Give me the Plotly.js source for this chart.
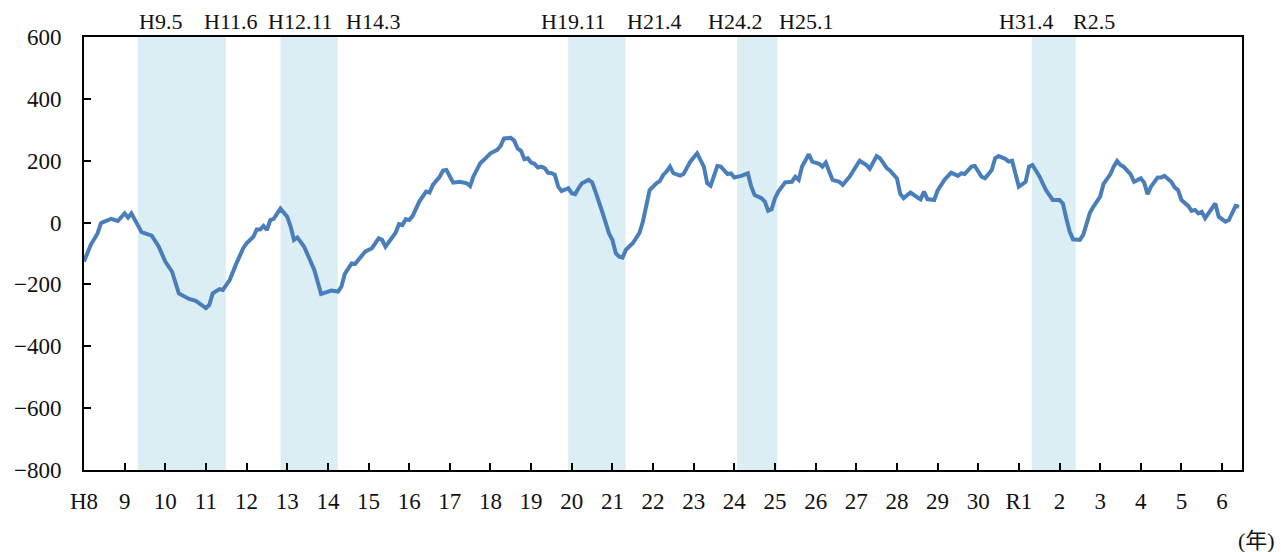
<!DOCTYPE html>
<html>
<head>
<meta charset="utf-8">
<script src="https://cdn.plot.ly/plotly-3.0.1.min.js"></script>
<style>
html,body{margin:0;padding:0;background:#fff;}
#chart{width:1281px;height:552px;}
</style>
</head>
<body>
<div id="chart"></div>
<script>
// Monthly readings (YYYY-MM) and values
const months = [
"1996-01","1996-03","1996-05","1996-06","1996-07","1996-09","1996-11",
"1997-01","1997-02","1997-03","1997-06","1997-09","1997-11",
"1998-01","1998-03","1998-05","1998-08","1998-10",
"1999-01","1999-02","1999-03","1999-05","1999-06","1999-08","1999-10","1999-12",
"2000-01","2000-03","2000-04","2000-05","2000-06","2000-07","2000-08","2000-09","2000-11",
"2001-01","2001-02","2001-03","2001-04","2001-06","2001-09","2001-11",
"2002-02","2002-04","2002-05","2002-06","2002-08","2002-09","2002-12",
"2003-02","2003-04","2003-05","2003-06","2003-08","2003-09","2003-10","2003-11","2003-12",
"2004-01","2004-02","2004-04","2004-06","2004-07","2004-08","2004-10","2004-11","2004-12",
"2005-02","2005-04","2005-06","2005-07","2005-08","2005-10","2005-11",
"2006-01","2006-03","2006-04","2006-05","2006-07","2006-08","2006-09","2006-10","2006-11","2006-12",
"2007-01","2007-02","2007-03","2007-04","2007-05","2007-06","2007-07","2007-08","2007-09","2007-10","2007-11","2007-12",
"2008-01","2008-02","2008-03","2008-04","2008-06","2008-07","2008-08","2008-09","2008-10","2008-12",
"2009-01","2009-02","2009-03","2009-04","2009-05","2009-07","2009-09","2009-10","2009-11","2009-12",
"2010-02","2010-03","2010-04","2010-05","2010-06","2010-07","2010-09","2010-10","2010-12",
"2011-02","2011-04","2011-05","2011-06","2011-08","2011-09","2011-11","2011-12",
"2012-01","2012-03","2012-05","2012-06","2012-07","2012-09","2012-10","2012-11","2012-12",
"2013-01","2013-02","2013-04","2013-06","2013-07","2013-08","2013-09","2013-11","2013-12",
"2014-02","2014-03","2014-04","2014-05","2014-06","2014-08","2014-09","2014-11",
"2015-01","2015-02","2015-04","2015-05","2015-07","2015-08","2015-10","2015-11",
"2016-01","2016-02","2016-03","2016-05","2016-07","2016-08","2016-09","2016-10","2016-12",
"2017-01","2017-03","2017-05","2017-07","2017-08","2017-09","2017-11","2017-12",
"2018-02","2018-03","2018-05","2018-06","2018-07","2018-09","2018-10","2018-11","2018-12",
"2019-01","2019-03","2019-04","2019-05","2019-07","2019-09","2019-10","2019-11",
"2020-01","2020-02","2020-03","2020-04","2020-05","2020-07","2020-08","2020-09","2020-10","2020-11",
"2021-01","2021-02","2021-04","2021-05","2021-06","2021-07","2021-08","2021-10","2021-11",
"2022-01","2022-02","2022-03","2022-04","2022-06","2022-07","2022-08","2022-10","2022-11","2022-12",
"2023-01","2023-03","2023-04","2023-05","2023-06","2023-07","2023-08","2023-10","2023-11","2023-12",
"2024-02","2024-03","2024-04","2024-05","2024-06"
];
const values = [
-126,-72,-35,-2,3,12,5,
30,16,30,-31,-42,-76,
-126,-159,-229,-247,-253,
-277,-266,-229,-215,-218,-186,-132,-83,
-67,-46,-22,-22,-11,-24,8,12,45,
19,-13,-56,-48,-78,-153,-231,
-220,-223,-207,-166,-132,-134,-94,
-83,-51,-56,-78,-46,-33,-5,-8,11,
8,21,68,100,97,122,148,168,170,
129,132,127,118,150,192,202,
224,235,248,272,274,265,240,232,205,208,
194,190,178,181,176,161,160,155,116,102,105,111,
95,92,111,127,138,130,100,62,35,-35,
-56,-99,-110,-113,-88,-67,-33,3,54,105,
127,134,154,165,181,160,152,157,197,
224,181,127,119,183,181,157,159,
146,151,159,116,89,79,68,38,43,
79,100,130,132,148,138,181,221,197,
190,181,194,165,138,132,122,148,
181,200,186,174,215,208,176,168,
143,92,79,97,82,75,100,76,73,
103,138,161,151,159,157,181,183,
148,143,170,208,215,206,197,200,159,
116,132,181,186,151,105,86,73,
73,62,14,-29,-54,-56,-40,-2,32,51,
84,125,156,181,199,186,180,156,132,
143,129,92,116,146,146,151,132,114,105,
73,54,38,41,30,35,14,43,62,19,
3,8,32,54,51
];

// Shaded periods (peak -> trough)
const bandStart = ["1997-05-02","2000-11-02","2007-11-30","2012-01-26","2019-04-27"];
const bandEnd   = ["1999-06-29","2002-03-31","2009-04-29","2013-01-22","2020-05-26"];
const bandLabels = ["H9.5","H11.6","H12.11","H14.3","H19.11","H21.4","H24.2","H25.1","H31.4","R2.5"];

// x-axis tick labels (each January)
const tickYears = [];
for (let y = 1996; y <= 2024; y++) tickYears.push(y);
const tickLabels = ["H8","9","10","11","12","13","14","15","16","17","18","19","20","21","22","23","24","25","26","27","28","29","30","R1","2","3","4","5","6"];
const unitLabel = "(年)";

function monthToX(s){ const [y,m] = s.split("-").map(Number); return y + (m-1)/12; }
function dateToX(s){
  const [y,m,d] = s.split("-").map(Number);
  const t0 = Date.UTC(y,0,1), t1 = Date.UTC(y+1,0,1), t = Date.UTC(y,m-1,d);
  return y + (t - t0)/(t1 - t0);
}

const xs = months.map(monthToX);

const serif = "Liberation Serif";

const shapes = bandStart.map((s,i)=>({
  type:"rect", xref:"x", yref:"paper", x0:dateToX(s), x1:dateToX(bandEnd[i]), y0:0, y1:1,
  fillcolor:"#DAEEF3", line:{width:0}, layer:"below"
}));

// label centres (in axis years)
const labelPos = [1997.894,1999.609,2001.326,2003.109,2008.054,2010.034,2012.027,2013.762,2019.173,2020.846];
const annotations = bandLabels.map((t,i)=>({
  text:t, x:labelPos[i], xref:"x", y:1.035, yref:"paper", xanchor:"center", yanchor:"middle",
  showarrow:false, font:{family:serif, size:22, color:"#111"}
}));
annotations.push({
  text:unitLabel, x:1.0305, xref:"paper", xanchor:"right", y:-0.162, yref:"paper", yanchor:"middle",
  showarrow:false,
  font:{family:"Liberation Serif, Noto Sans CJK JP", size:22, color:"#111"}
});

const layout = {
  width:1281, height:552,
  margin:{l:84, r:39, t:37, b:82, pad:0},
  paper_bgcolor:"#fff", plot_bgcolor:"rgba(0,0,0,0)",
  showlegend:false,
  font:{family:serif, color:"#111"},
  xaxis:{
    range:[1996, 2024.49], tickmode:"array", tickvals:tickYears, ticktext:tickLabels,
    ticks:"inside", ticklen:7, tickwidth:2, tickcolor:"#000",
    showline:true, linecolor:"#000", linewidth:2, mirror:true,
    showgrid:false, zeroline:false,
    tickfont:{family:serif, size:23, color:"#111"}, ticklabelstandoff:9
  },
  yaxis:{
    range:[-800, 600], tickmode:"array", tickvals:[-800,-600,-400,-200,0,200,400,600],
    ticks:"inside", ticklen:7, tickwidth:2, tickcolor:"#000",
    showline:true, linecolor:"#000", linewidth:2, mirror:true,
    showgrid:false, zeroline:false,
    tickfont:{family:serif, size:23, color:"#111"}, ticklabelstandoff:16
  },
  shapes:shapes,
  annotations:annotations
};

Plotly.newPlot("chart", [{
  x:xs, y:values, type:"scatter", mode:"lines",
  line:{color:"#4A7EBB", width:4, shape:"linear"},
  hoverinfo:"skip"
}], layout, {staticPlot:true});
</script>
</body>
</html>
